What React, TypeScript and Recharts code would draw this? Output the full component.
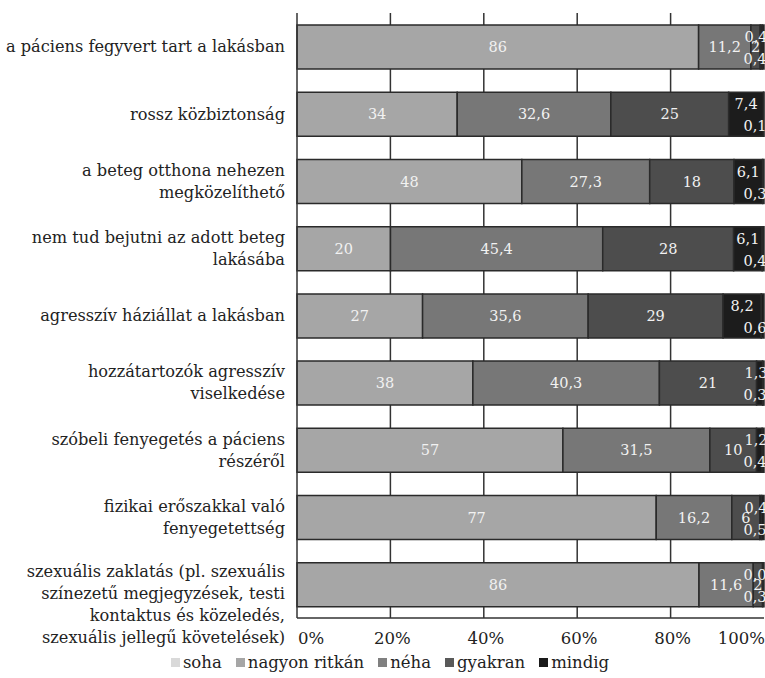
import { Bar, BarChart, CartesianGrid, LabelList, Legend, XAxis, YAxis } from 'recharts'

const categories = [
  'a páciens fegyvert tart a lakásban',
  'rossz közbiztonság',
  'a beteg otthona nehezen\nmegközelíthető',
  'nem tud bejutni az adott beteg\nlakásába',
  'agresszív háziállat a lakásban',
  'hozzátartozók agresszív\nviselkedése',
  'szóbeli fenyegetés a páciens\nrészéről',
  'fizikai erőszakkal való\nfenyegetettség',
  'szexuális zaklatás (pl. szexuális\nszínezetű megjegyzések, testi\nkontaktus és közeledés,\nszexuális jellegű követelések)',
]

const soha = [86, 34, 48, 20, 27, 38, 57, 77, 86]
const nagyonRitkan = [11.2, 32.6, 27.3, 45.4, 35.6, 40.3, 31.5, 16.2, 11.6]
const neha = [2, 25, 18, 28, 29, 21, 10, 6, 2]
const gyakran = [0.4, 7.4, 6.1, 6.1, 8.2, 1.3, 1.2, 0.4, 0.0]
const mindig = [0.4, 0.1, 0.3, 0.4, 0.6, 0.3, 0.4, 0.5, 0.3]

const seriesKeys = ['soha', 'nagyonRitkan', 'neha', 'gyakran', 'mindig']
const seriesNames = ['soha', 'nagyon ritkán', 'néha', 'gyakran', 'mindig']
const barColors = ['#a6a6a6', '#777777', '#4d4d4d', '#1c1c1c', '#1c1c1c']
const legendColors = ['#d9d9d9', '#a6a6a6', '#808080', '#595959', '#1a1a1a']
const xTicks = [0, 0.2, 0.4, 0.6, 0.8, 1]

const data = categories.map((name, i) => ({
  name,
  soha: soha[i],
  nagyonRitkan: nagyonRitkan[i],
  neha: neha[i],
  gyakran: gyakran[i],
  mindig: mindig[i],
}))

const FONT = "'DejaVu Serif', 'Liberation Serif', serif"

const fmt = (v: number) =>
  Number.isInteger(v) && v !== 0 ? String(v) : v.toFixed(1).replace('.', ',')

function CategoryTick({ x, y, payload }: any) {
  const lines = String(payload.value).split('\n')
  const lh = 22
  const shift = lines.length > 3 ? 20 : 0
  const start = y - ((lines.length - 1) * lh) / 2 + shift
  return (
    <text
      x={x}
      y={start}
      textAnchor="end"
      fill="#222"
      style={{ fontFamily: FONT }}
      fontSize={16.2}
    >
      {lines.map((l, i) => (
        <tspan key={i} x={x + 4} y={start + i * lh} dy="0.35em">
          {l}
        </tspan>
      ))}
    </text>
  )
}

function PercentTick({ x, y, payload }: any) {
  const v = payload.value
  const anchor = v === 0 ? 'start' : v === 1 ? 'end' : 'middle'
  const tx = v === 0 ? x + 1 : v === 1 ? 765 : x + 2
  return (
    <text
      x={tx}
      y={y}
      dy={18}
      textAnchor={anchor}
      fill="#222"
      style={{ fontFamily: FONT }}
      fontSize={16.5}
    >
      {Math.round(v * 100)}%
    </text>
  )
}

function smallLabel(cx: number, cy: number, txt: string, key?: string) {
  return (
    <text
      key={key}
      x={cx}
      y={cy}
      dy="0.35em"
      textAnchor="middle"
      fill="#f2f2f2"
      style={{ fontFamily: FONT }}
      fontSize={14.5}
    >
      {txt}
    </text>
  )
}

const makeLabel = (series: number) => (props: any) => {
  const { x, y, width, height, value, index } = props
  if (value === undefined || value === null) return null
  let cx = Number(x) + Number(width) / 2
  let cy = Number(y) + Number(height) / 2
  if (series === 3) {
    if (Number(value) === 0) return null
    cx = Math.min(cx, 756)
    cy -= 10
  } else if (series === 4) {
    cx = Math.min(cx, 755)
    const mid = cy
    cy += 12
    // a zero "gyakran" segment has no bar of its own, so its label is drawn here
    if (gyakran[index] === 0) {
      return (
        <g>
          {smallLabel(755, mid - 10, fmt(gyakran[index]), 'g')}
          {smallLabel(cx, cy, fmt(Number(value)), 'm')}
        </g>
      )
    }
  }
  return smallLabel(cx, cy, fmt(Number(value)))
}

function LegendBox() {
  return (
    <div
      style={{
        height: 32,
        display: 'flex',
        justifyContent: 'center',
        alignItems: 'center',
        gap: 14,
        fontFamily: FONT,
        fontSize: 16.5,
        color: '#222',
        paddingLeft: 16,
      }}
    >
      {seriesNames.map((n, i) => (
        <span key={n} style={{ display: 'flex', alignItems: 'center' }}>
          <span
            style={{
              display: 'inline-block',
              width: 9,
              height: 9,
              background: legendColors[i],
              marginRight: 3,
            }}
          />
          {n}
        </span>
      ))}
    </div>
  )
}

export default function App() {
  return (
    <div style={{ position: 'absolute', left: 0, top: 0, background: '#fff' }}>
      <BarChart
        width={765}
        height={678}
        data={data}
        layout="vertical"
        stackOffset="expand"
        barSize={44}
        margin={{ top: 13, right: 1, left: 0, bottom: 0 }}
      >
        <CartesianGrid
          horizontal={false}
          stroke="#333"
          strokeWidth={1.5}
          verticalPoints={[390.4, 483.8, 577.2, 670.6]}
        />
        <XAxis
          type="number"
          domain={[0, 1]}
          ticks={xTicks}
          tick={<PercentTick />}
          tickLine={false}
          axisLine={{ stroke: '#333', strokeWidth: 1.5 }}
          height={28}
          interval={0}
        />
        <YAxis
          type="category"
          dataKey="name"
          width={297}
          tick={<CategoryTick />}
          tickLine={false}
          axisLine={{ stroke: '#333', strokeWidth: 1.5 }}
          interval={0}
          tickMargin={10}
        />
        <Legend content={<LegendBox />} verticalAlign="bottom" />
        {seriesKeys.map((k, i) => (
          <Bar
            key={k}
            dataKey={k}
            name={seriesNames[i]}
            stackId="a"
            fill={barColors[i]}
            stroke="#2a2a2a"
            strokeWidth={1.5}
            isAnimationActive={false}
          >
            <LabelList dataKey={k} content={makeLabel(i)} />
          </Bar>
        ))}
      </BarChart>
    </div>
  )
}
